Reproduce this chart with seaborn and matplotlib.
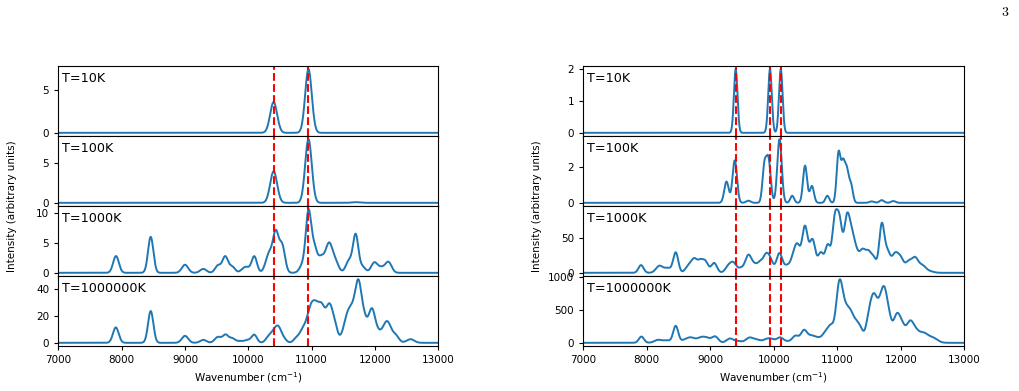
import numpy as np
import pandas as pd
import matplotlib
matplotlib.use("Agg")
import matplotlib.pyplot as plt
import seaborn as sns

# ---------------- data: stick spectra (center, amplitude, gaussian width) ----------------
temps = ["T=10K", "T=100K", "T=1000K", "T=1000000K"]

left_10_c = [10400, 10950]
left_10_a = [3.55, 7.35]
left_10_w = [55, 52]

left_100_c = [10400, 10950, 11700]
left_100_a = [3.95, 8.0, 0.08]
left_100_w = [55, 52, 60]

left_1000_c = [7911, 8459, 9000, 9290, 9520, 9635, 9745, 9960, 10095, 10330, 10435, 10535,
               10860, 10950, 11040, 11150, 11275, 11380, 11590, 11695, 11800, 11990, 12100, 12212]
left_1000_a = [2.8, 6.0, 1.35, 0.65, 1.2, 2.7, 1.0, 1.0, 2.7, 3.2, 6.3, 4.4,
               1.3, 9.8, 4.0, 2.4, 4.8, 1.6, 2.0, 6.2, 1.0, 1.7, 0.8, 1.8]
left_1000_w = [45, 42, 50, 50, 45, 45, 45, 60, 42, 55, 45, 45,
               50, 42, 45, 50, 55, 50, 50, 42, 50, 50, 50, 50]

left_1e6_c = [7908, 8459, 9000, 9290, 9520, 9640, 9745, 9860, 9990, 10095, 10330, 10400, 10470, 10560,
              10760, 10850, 10920, 10990, 11070, 11160, 11280, 11370, 11580, 11660, 11740, 11830,
              11950, 12060, 12190, 12330, 12560]
left_1e6_a = [11.5, 23.7, 5.2, 2.2, 4.3, 5.9, 3.2, 1.2, 2.0, 5.8, 5.0, 4.0, 11.5, 2.5,
              3.5, 7.5, 8.0, 21.0, 21.0, 23.0, 27.0, 9.0, 22.0, 10.0, 41.0, 14.0,
              25.0, 5.0, 16.0, 4.8, 2.7]
left_1e6_w = [45, 42, 50, 50, 50, 45, 45, 50, 55, 42, 50, 40, 50, 45,
              45, 45, 45, 50, 50, 50, 55, 45, 70, 50, 50, 45,
              55, 50, 65, 50, 60]

right_10_c = [9400, 9940, 10110]
right_10_a = [2.0, 2.0, 2.0]
right_10_w = [28, 28, 28]

right_100_c = [9255, 9385, 9600, 9850, 9915, 10090, 10290, 10492, 10600, 10843,
               11020, 11090, 11150, 11215, 11540, 11700, 11883]
right_100_a = [1.2, 2.4, 0.12, 1.9, 2.45, 3.6, 0.4, 2.1, 0.95, 0.4,
               2.8, 2.1, 1.7, 1.0, 0.08, 0.15, 0.1]
right_100_w = [35, 35, 35, 30, 35, 35, 30, 32, 32, 30,
               30, 30, 30, 30, 35, 35, 35]

right_1000_c = [7909, 8200, 8330, 8455, 8660, 8750, 8840, 8920, 9060, 9290, 9370, 9480,
                9600, 9700, 9790, 9870, 9935, 10088, 10210, 10300, 10370, 10490, 10610,
                10740, 10850, 10960, 11035, 11150, 11220, 11280, 11400, 11490, 11570,
                11700, 11790, 11910, 12000, 12120, 12225, 12340, 12460]
right_1000_a = [11, 10, 6.5, 29, 10, 18, 14, 16, 14, 10, 12, 6,
                25, 9, 14, 16, 20, 27.5, 10, 15, 37, 65, 46,
                28, 38, 72, 68, 76, 30, 32, 31, 22, 21,
                67, 28, 26, 18, 15, 20, 10, 2]
right_1000_w = [40, 55, 50, 40, 50, 45, 40, 45, 45, 50, 45, 45,
                50, 45, 45, 40, 50, 45, 50, 40, 45, 45, 45,
                45, 40, 40, 40, 45, 40, 50, 50, 40, 45,
                40, 45, 50, 45, 50, 50, 55, 60]

right_1e6_c = [7915, 8180, 8320, 8455, 8600, 8700, 8850, 8950, 9075, 9310, 9440, 9620,
               9740, 9890, 9975, 10098, 10210, 10340, 10476, 10590, 10690, 10810, 10900,
               11032, 11120, 11200, 11290, 11370, 11500, 11575, 11650, 11730, 11810,
               11935, 12020, 12145, 12240, 12360, 12510]
right_1e6_a = [95, 45, 35, 255, 40, 70, 75, 60, 95, 65, 25, 80,
               40, 55, 38, 80, 20, 105, 190, 90, 70, 130, 230,
               870, 370, 350, 250, 150, 380, 570, 350, 700, 330,
               380, 230, 300, 130, 140, 70]
right_1e6_w = [40, 60, 55, 40, 60, 60, 60, 55, 50, 55, 50, 60,
               50, 60, 50, 50, 50, 50, 50, 50, 55, 50, 50,
               50, 50, 50, 55, 50, 45, 45, 45, 50, 50,
               50, 50, 55, 55, 70, 70]

left_lines = [10400, 10950]
right_lines = [9400, 9940, 10110]

x_ticks = [7000, 8000, 9000, 10000, 11000, 12000, 13000]

left_sets = [(left_10_c, left_10_a, left_10_w), (left_100_c, left_100_a, left_100_w),
             (left_1000_c, left_1000_a, left_1000_w), (left_1e6_c, left_1e6_a, left_1e6_w)]
right_sets = [(right_10_c, right_10_a, right_10_w), (right_100_c, right_100_a, right_100_w),
              (right_1000_c, right_1000_a, right_1000_w), (right_1e6_c, right_1e6_a, right_1e6_w)]


def broaden(grid, centers, amps, widths):
    y = np.zeros_like(grid)
    for c, a, w in zip(centers, amps, widths):
        y += a * np.exp(-0.5 * ((grid - c) / w) ** 2)
    return y


sns.set_style("ticks")
plt.rcParams["font.family"] = ["DejaVu Sans"]
plt.rcParams.update({"font.size": 8, "text.color": "black", "axes.labelcolor": "black",
                     "xtick.color": "black", "ytick.color": "black"})

fig = plt.figure(figsize=(10.19, 3.91), dpi=100)
W, H = 1019, 391
grid = np.linspace(7000, 13000, 3001)
blue = "#1f77b4"

columns = [(58.3, 380, left_sets, left_lines, 12), (583.3, 381, right_sets, right_lines, 537)]
top_px, panel_h = 66, 70

for left_px, width_px, sets, lines, ylab_x in columns:
    for i, (c, a, w) in enumerate(sets):
        y0 = top_px + panel_h * (i + 1)
        ax = fig.add_axes([left_px / W, 1 - y0 / H, width_px / W, panel_h / H])
        df = pd.DataFrame({"x": grid, "y": broaden(grid, c, a, w)})
        sns.lineplot(data=df, x="x", y="y", ax=ax, color=blue, linewidth=1.4)
        for xl in lines:
            ax.axvline(xl, color="red", linestyle="--", linewidth=1.5)
        ax.set_xlim(7000, 13000)
        ax.set_xticks(x_ticks)
        ax.text(0.01, 0.92, temps[i], transform=ax.transAxes, ha="left", va="top", fontsize=9.2)
        ax.set_ylabel("")
        ax.tick_params(labelsize=7.5, length=3, color="black")
        for s in ax.spines.values():
            s.set_visible(True)
            s.set_color("black")
            s.set_linewidth(0.8)
        if i < 3:
            ax.set_xticklabels([])
            ax.set_xlabel("")
        else:
            ax.set_xlabel("Wavenumber (cm$^{-1}$)", fontsize=7.5)
    fig.text(ylab_x / W, 1 - 206 / H, "Intensity (arbitrary units)", rotation=90,
             ha="center", va="center", fontsize=7.5)

fig.text(1005 / W, 1 - 12 / H, "$3$", ha="center", va="center", fontsize=10, math_fontfamily="cm")

fig.savefig("out.png", dpi=100)
